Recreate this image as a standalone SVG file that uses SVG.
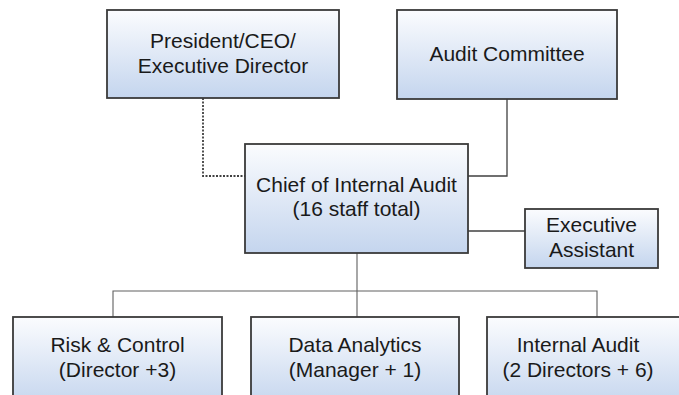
<svg xmlns="http://www.w3.org/2000/svg" width="679" height="395" viewBox="0 0 679 395">
<defs>
<linearGradient id="g" x1="0" y1="0" x2="0" y2="1">
<stop offset="0" stop-color="#fbfcfe"/>
<stop offset="1" stop-color="#c4d5ee"/>
</linearGradient>
<style>
.box{fill:url(#g);stroke:#3a3a3a;stroke-width:1.8}
.t{font-family:"Liberation Sans",Arial,sans-serif;font-size:21px;fill:#1a1a1a;text-anchor:middle}
.c{fill:none;stroke:#404040;stroke-width:1.3}
.c2{fill:none;stroke:#606060;stroke-width:1.1}
.d{fill:none;stroke:#404040;stroke-width:1.8;stroke-dasharray:2 1.5}
</style>
</defs>
<rect width="679" height="395" fill="#ffffff"/>
<g id="connectors">
<path class="d" d="M203 98 V176 H245"/>
<path class="c" d="M507 99 V176 H468"/>
<path class="c" d="M468 231 H525"/>
<path class="c2" d="M357 253 V317"/>
<path class="c2" d="M113 317 V291 H597 V317"/>
</g>
<g id="president">
<rect class="box" x="107" y="10" width="232" height="88"/>
<text class="t" x="223" y="48">President/CEO/</text>
<text class="t" x="223" y="73">Executive Director</text>
</g>
<g id="audit-committee">
<rect class="box" x="397" y="10" width="220" height="89"/>
<text class="t" x="507" y="61">Audit Committee</text>
</g>
<g id="chief">
<rect class="box" x="245" y="144" width="223" height="109"/>
<text class="t" x="356.5" y="192">Chief of Internal Audit</text>
<text class="t" x="356.5" y="216">(16 staff total)</text>
</g>
<g id="exec-assistant">
<rect class="box" x="525" y="209" width="133" height="59"/>
<text class="t" x="591.5" y="232">Executive</text>
<text class="t" x="591.5" y="257">Assistant</text>
</g>
<g id="risk-control">
<rect class="box" x="13" y="317" width="209" height="90"/>
<text class="t" x="117.5" y="352">Risk &amp; Control</text>
<text class="t" x="117.5" y="377">(Director +3)</text>
</g>
<g id="data-analytics">
<rect class="box" x="251" y="317" width="208" height="90"/>
<text class="t" x="355" y="352">Data Analytics</text>
<text class="t" x="355" y="377">(Manager + 1)</text>
</g>
<g id="internal-audit">
<rect class="box" x="487" y="317" width="200" height="90"/>
<text class="t" x="578" y="352">Internal Audit</text>
<text class="t" x="578" y="377">(2 Directors + 6)</text>
</g>
</svg>
